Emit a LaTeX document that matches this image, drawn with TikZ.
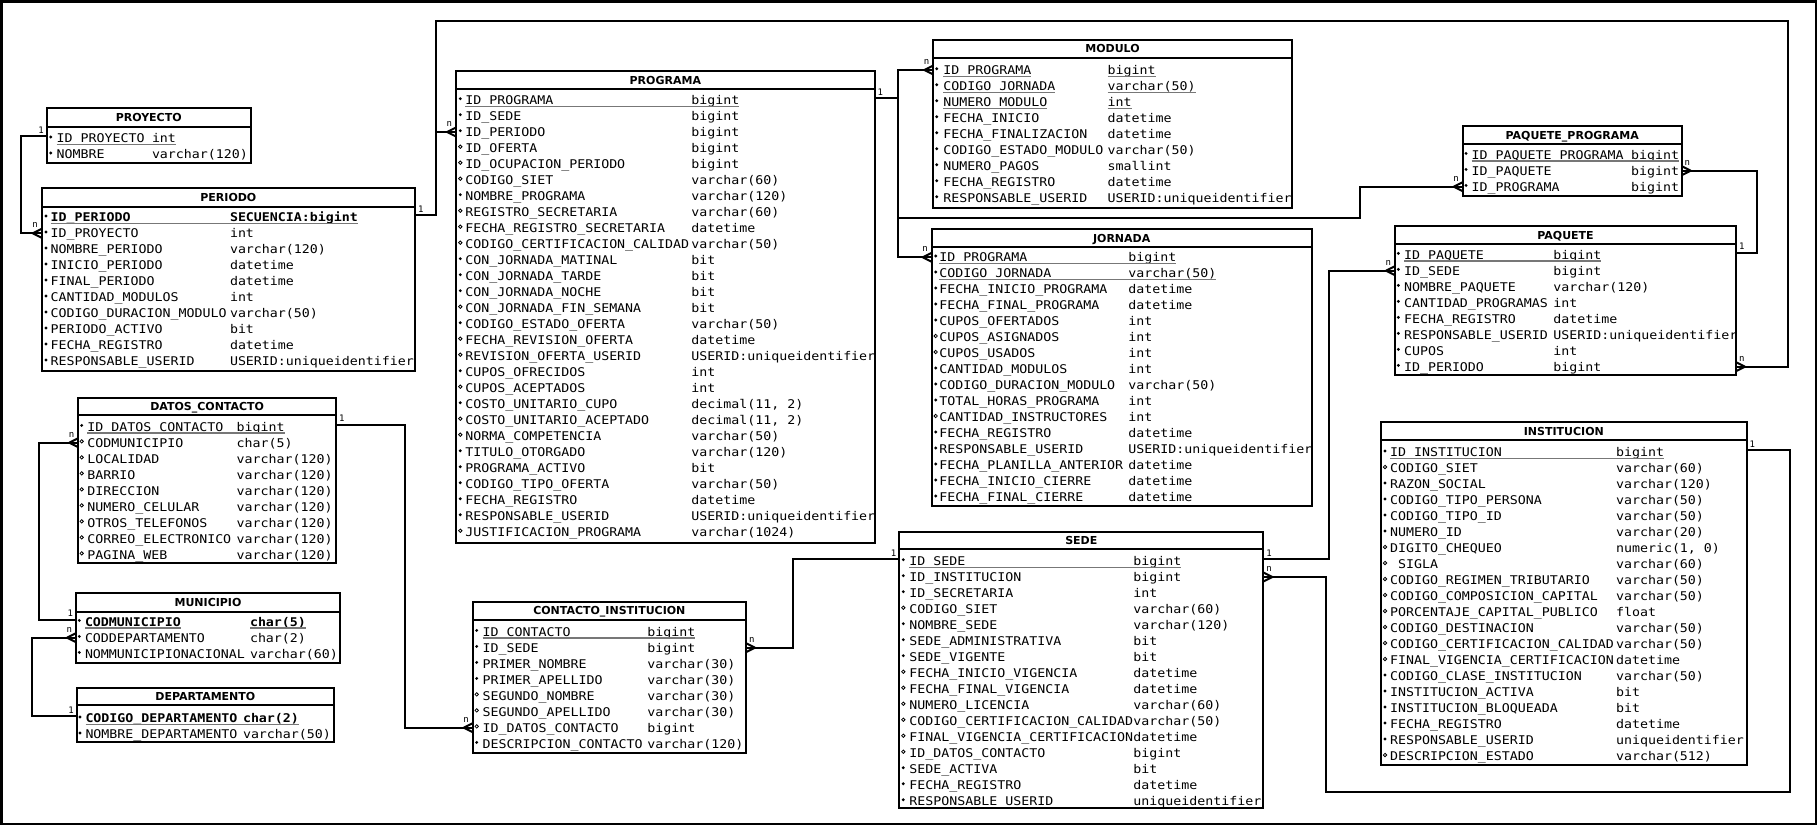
\documentclass[tikz,border=0pt]{standalone}
\usepackage{fontspec}
\newfontfamily\rowfont[FakeStretch=1.107]{DejaVu Sans Mono}
\newfontfamily\cardfont{DejaVu Sans Mono}
\newfontfamily\headfont{DejaVu Sans}
\definecolor{ulgray}{HTML}{777777}

\tikzset{
  tbox/.style={draw, line width=2pt, fill=white, inner sep=0pt, outer sep=0pt},
  sepline/.style={line width=2pt},
  conn/.style={line width=2pt},
  rtext/.style={anchor=west, inner sep=0pt, outer sep=0pt, text height=8.75pt, text depth=0pt,
    font=\rowfont\fontsize{12}{14}\selectfont},
  ttext/.style={inner sep=0pt, outer sep=0pt, text height=8pt, text depth=0pt,
    font=\headfont\bfseries\fontsize{11}{13}\selectfont},
  card/.style={inner sep=0pt, outer sep=0pt, text depth=0pt, font=\cardfont\fontsize{9}{10}\selectfont},
  uline/.style={line width=1.2pt, draw=ulgray},
}

% table frame: name, left, top, right, bottom, header bottom, title
\newcommand\ertable[7]{%
  \node[tbox, minimum width={#4-#2}, minimum height={#5-#3}] (#1) at ({(#2+#4)/2},{(#3+#5)/2}) {};
  \draw[sepline] (#2,#6) -- (#4,#6);
  \node[ttext] (#1-title) at ({(#2+#4)/2},{(#3+#6)/2}) {#7};
}
% column positions: bullet x, name x, type x, first row y
\newcommand\cols[5]{\def\bx{#2}\def\nx{#3}\def\tx{#4}\def\ry{#5}%
  \coordinate (#1-pk) at (\bx,\ry-2);}
% row: table, index, bullet (f = filled, o = open), name, type
\newcommand\row[5]{%
  \pgfmathsetmacro\yy{\ry+16*(#2-1)}%
  \coordinate (#1-#2) at (\bx,\yy);
  \if#3f\fill (\bx,\yy-1.3) circle (1.6pt);\else\draw[line width=0.8pt] (\bx,\yy-1.3) circle (1.7pt);\fi
  \node[rtext] (#1-#2n) at (\nx,\yy) {#4};
  \node[rtext] (#1-#2t) at (\tx,\yy) {#5};
}
\newcommand\pkline[2]{\draw[uline] ([yshift=-2pt]#1-#2n.base west) -- ([yshift=-2pt]#1-#2t.base east);}
\newcommand\pksplit[2]{\draw[uline] ([yshift=-2pt]#1-#2n.base west) -- ([yshift=-2pt]#1-#2n.base east);
  \draw[uline] ([yshift=-2pt]#1-#2t.base west) -- ([yshift=-2pt]#1-#2t.base east);}
% crow's foot at a box edge; #2 = -1 for a left edge, 1 for a right edge
\newcommand\crow[2]{\draw[conn] (#1) ++({9*(#2)},0) -- ++({-9*(#2)},-4.5) (#1) ++({9*(#2)},0) -- ++({-9*(#2)},4.5);}
\newcommand\oneL[2]{\node[card, anchor=south east] (#2) at ([xshift=-3pt,yshift=3pt]#1) {1};}
\newcommand\oneR[2]{\node[card, anchor=south west] (#2) at ([xshift=3pt,yshift=3pt]#1) {1};}
\newcommand\manyL[2]{\node[card, anchor=south east] (#2) at ([xshift=-4pt,yshift=5.5pt]#1) {n};}
\newcommand\manyR[2]{\node[card, anchor=south west] (#2) at ([xshift=3pt,yshift=5.5pt]#1) {n};}

\begin{document}
\begin{tikzpicture}[x=1pt,y=-1pt]
\useasboundingbox (0,0) rectangle (1817,825);
\fill[white] (0,0) rectangle (1817,825);
\draw[line width=2.5pt] (1.25,1.25) rectangle (1815.75,823.75);

% ---------- PROYECTO ----------
\ertable{PROY}{46.7}{108.3}{250.7}{163.3}{126.7}{PROYECTO}
\cols{PROY}{50.7}{56.7}{152}{138.3}
\row{PROY}{1}{f}{ID\_PROYECTO}{int}
\row{PROY}{2}{f}{NOMBRE}{varchar(120)}
\pkline{PROY}{1}

% ---------- PERIODO ----------
\ertable{PER}{41.7}{188.3}{415}{371}{206.7}{PERIODO}
\cols{PER}{46}{50.7}{230}{217.3}
\row{PER}{1}{f}{\bfseries ID\_PERIODO}{\bfseries SECUENCIA:bigint}
\row{PER}{2}{f}{ID\_PROYECTO}{int}
\row{PER}{3}{f}{NOMBRE\_PERIODO}{varchar(120)}
\row{PER}{4}{f}{INICIO\_PERIODO}{datetime}
\row{PER}{5}{f}{FINAL\_PERIODO}{datetime}
\row{PER}{6}{f}{CANTIDAD\_MODULOS}{int}
\row{PER}{7}{f}{CODIGO\_DURACION\_MODULO}{varchar(50)}
\row{PER}{8}{f}{PERIODO\_ACTIVO}{bit}
\row{PER}{9}{f}{FECHA\_REGISTRO}{datetime}
\row{PER}{10}{f}{RESPONSABLE\_USERID}{USERID:uniqueidentifier}
\pkline{PER}{1}

% ---------- DATOS_CONTACTO ----------
\ertable{DC}{78.3}{398.3}{336}{563.3}{415}{DATOS\_CONTACTO}
\cols{DC}{81.7}{87.3}{236.7}{426.7}
\row{DC}{1}{f}{ID\_DATOS\_CONTACTO}{bigint}
\row{DC}{2}{o}{CODMUNICIPIO}{char(5)}
\row{DC}{3}{o}{LOCALIDAD}{varchar(120)}
\row{DC}{4}{o}{BARRIO}{varchar(120)}
\row{DC}{5}{o}{DIRECCION}{varchar(120)}
\row{DC}{6}{o}{NUMERO\_CELULAR}{varchar(120)}
\row{DC}{7}{o}{OTROS\_TELEFONOS}{varchar(120)}
\row{DC}{8}{o}{CORREO\_ELECTRONICO}{varchar(120)}
\row{DC}{9}{o}{PAGINA\_WEB}{varchar(120)}
\pkline{DC}{1}

% ---------- MUNICIPIO ----------
\ertable{MUN}{76}{593.3}{340}{662.7}{611.7}{MUNICIPIO}
\cols{MUN}{79.3}{85}{250}{621.7}
\row{MUN}{1}{f}{\bfseries CODMUNICIPIO}{\bfseries char(5)}
\row{MUN}{2}{f}{CODDEPARTAMENTO}{char(2)}
\row{MUN}{3}{f}{NOMMUNICIPIONACIONAL}{varchar(60)}
\pksplit{MUN}{1}

% ---------- DEPARTAMENTO ----------
\ertable{DEP}{76.7}{687.7}{334}{741.7}{705}{DEPARTAMENTO}
\cols{DEP}{80}{85.5}{243}{718.3}
\row{DEP}{1}{f}{\bfseries CODIGO\_DEPARTAMENTO}{\bfseries char(2)}
\row{DEP}{2}{f}{NOMBRE\_DEPARTAMENTO}{varchar(50)}
\pkline{DEP}{1}

% ---------- PROGRAMA ----------
\ertable{PROG}{456}{71}{874.7}{543.3}{89}{PROGRAMA}
\cols{PROG}{460.3}{465.3}{691.3}{100}
\row{PROG}{1}{f}{ID\_PROGRAMA}{bigint}
\row{PROG}{2}{f}{ID\_SEDE}{bigint}
\row{PROG}{3}{f}{ID\_PERIODO}{bigint}
\row{PROG}{4}{o}{ID\_OFERTA}{bigint}
\row{PROG}{5}{o}{ID\_OCUPACION\_PERIODO}{bigint}
\row{PROG}{6}{o}{CODIGO\_SIET}{varchar(60)}
\row{PROG}{7}{f}{NOMBRE\_PROGRAMA}{varchar(120)}
\row{PROG}{8}{o}{REGISTRO\_SECRETARIA}{varchar(60)}
\row{PROG}{9}{o}{FECHA\_REGISTRO\_SECRETARIA}{datetime}
\row{PROG}{10}{o}{CODIGO\_CERTIFICACION\_CALIDAD}{varchar(50)}
\row{PROG}{11}{f}{CON\_JORNADA\_MATINAL}{bit}
\row{PROG}{12}{f}{CON\_JORNADA\_TARDE}{bit}
\row{PROG}{13}{f}{CON\_JORNADA\_NOCHE}{bit}
\row{PROG}{14}{o}{CON\_JORNADA\_FIN\_SEMANA}{bit}
\row{PROG}{15}{f}{CODIGO\_ESTADO\_OFERTA}{varchar(50)}
\row{PROG}{16}{o}{FECHA\_REVISION\_OFERTA}{datetime}
\row{PROG}{17}{o}{REVISION\_OFERTA\_USERID}{USERID:uniqueidentifier}
\row{PROG}{18}{f}{CUPOS\_OFRECIDOS}{int}
\row{PROG}{19}{o}{CUPOS\_ACEPTADOS}{int}
\row{PROG}{20}{f}{COSTO\_UNITARIO\_CUPO}{decimal(11, 2)}
\row{PROG}{21}{o}{COSTO\_UNITARIO\_ACEPTADO}{decimal(11, 2)}
\row{PROG}{22}{o}{NORMA\_COMPETENCIA}{varchar(50)}
\row{PROG}{23}{f}{TITULO\_OTORGADO}{varchar(120)}
\row{PROG}{24}{f}{PROGRAMA\_ACTIVO}{bit}
\row{PROG}{25}{f}{CODIGO\_TIPO\_OFERTA}{varchar(50)}
\row{PROG}{26}{f}{FECHA\_REGISTRO}{datetime}
\row{PROG}{27}{f}{RESPONSABLE\_USERID}{USERID:uniqueidentifier}
\row{PROG}{28}{o}{JUSTIFICACION\_PROGRAMA}{varchar(1024)}
\pkline{PROG}{1}

% ---------- MODULO ----------
\ertable{MOD}{933.3}{40}{1291.7}{208.3}{57.7}{MODULO}
\cols{MOD}{936.7}{943.3}{1107.7}{70}
\row{MOD}{1}{f}{ID\_PROGRAMA}{bigint}
\row{MOD}{2}{f}{CODIGO\_JORNADA}{varchar(50)}
\row{MOD}{3}{f}{NUMERO\_MODULO}{int}
\row{MOD}{4}{f}{FECHA\_INICIO}{datetime}
\row{MOD}{5}{f}{FECHA\_FINALIZACION}{datetime}
\row{MOD}{6}{f}{CODIGO\_ESTADO\_MODULO}{varchar(50)}
\row{MOD}{7}{f}{NUMERO\_PAGOS}{smallint}
\row{MOD}{8}{f}{FECHA\_REGISTRO}{datetime}
\row{MOD}{9}{f}{RESPONSABLE\_USERID}{USERID:uniqueidentifier}
\pksplit{MOD}{1}\pksplit{MOD}{2}\pksplit{MOD}{3}

% ---------- JORNADA ----------
\ertable{JOR}{931.7}{229.3}{1311.7}{506}{246.7}{JORNADA}
\cols{JOR}{935.7}{939.3}{1128.3}{257.3}
\row{JOR}{1}{f}{ID\_PROGRAMA}{bigint}
\row{JOR}{2}{f}{CODIGO\_JORNADA}{varchar(50)}
\row{JOR}{3}{f}{FECHA\_INICIO\_PROGRAMA}{datetime}
\row{JOR}{4}{f}{FECHA\_FINAL\_PROGRAMA}{datetime}
\row{JOR}{5}{f}{CUPOS\_OFERTADOS}{int}
\row{JOR}{6}{o}{CUPOS\_ASIGNADOS}{int}
\row{JOR}{7}{o}{CUPOS\_USADOS}{int}
\row{JOR}{8}{f}{CANTIDAD\_MODULOS}{int}
\row{JOR}{9}{f}{CODIGO\_DURACION\_MODULO}{varchar(50)}
\row{JOR}{10}{f}{TOTAL\_HORAS\_PROGRAMA}{int}
\row{JOR}{11}{o}{CANTIDAD\_INSTRUCTORES}{int}
\row{JOR}{12}{f}{FECHA\_REGISTRO}{datetime}
\row{JOR}{13}{f}{RESPONSABLE\_USERID}{USERID:uniqueidentifier}
\row{JOR}{14}{f}{FECHA\_PLANILLA\_ANTERIOR}{datetime}
\row{JOR}{15}{f}{FECHA\_INICIO\_CIERRE}{datetime}
\row{JOR}{16}{f}{FECHA\_FINAL\_CIERRE}{datetime}
\pkline{JOR}{1}\pkline{JOR}{2}

% ---------- PAQUETE_PROGRAMA ----------
\ertable{PP}{1462.7}{126.3}{1681.7}{196.3}{144}{PAQUETE\_PROGRAMA}
\cols{PP}{1466}{1471.7}{1631}{154.7}
\row{PP}{1}{f}{ID\_PAQUETE\_PROGRAMA}{bigint}
\row{PP}{2}{f}{ID\_PAQUETE}{bigint}
\row{PP}{3}{f}{ID\_PROGRAMA}{bigint}
\pkline{PP}{1}

% ---------- PAQUETE ----------
\ertable{PAQ}{1395}{226.3}{1736}{375.3}{244}{PAQUETE}
\cols{PAQ}{1398.3}{1404}{1553.3}{254.7}
\row{PAQ}{1}{f}{ID\_PAQUETE}{bigint}
\row{PAQ}{2}{f}{ID\_SEDE}{bigint}
\row{PAQ}{3}{f}{NOMBRE\_PAQUETE}{varchar(120)}
\row{PAQ}{4}{f}{CANTIDAD\_PROGRAMAS}{int}
\row{PAQ}{5}{f}{FECHA\_REGISTRO}{datetime}
\row{PAQ}{6}{f}{RESPONSABLE\_USERID}{USERID:uniqueidentifier}
\row{PAQ}{7}{f}{CUPOS}{int}
\row{PAQ}{8}{f}{ID\_PERIODO}{bigint}
\pkline{PAQ}{1}

% ---------- SEDE ----------
\ertable{SEDE}{899.3}{532.3}{1263.3}{808.3}{549.3}{SEDE}
\cols{SEDE}{903.3}{909.3}{1133.3}{561}
\row{SEDE}{1}{f}{ID\_SEDE}{bigint}
\row{SEDE}{2}{f}{ID\_INSTITUCION}{bigint}
\row{SEDE}{3}{f}{ID\_SECRETARIA}{int}
\row{SEDE}{4}{o}{CODIGO\_SIET}{varchar(60)}
\row{SEDE}{5}{f}{NOMBRE\_SEDE}{varchar(120)}
\row{SEDE}{6}{f}{SEDE\_ADMINISTRATIVA}{bit}
\row{SEDE}{7}{f}{SEDE\_VIGENTE}{bit}
\row{SEDE}{8}{o}{FECHA\_INICIO\_VIGENCIA}{datetime}
\row{SEDE}{9}{o}{FECHA\_FINAL\_VIGENCIA}{datetime}
\row{SEDE}{10}{o}{NUMERO\_LICENCIA}{varchar(60)}
\row{SEDE}{11}{o}{CODIGO\_CERTIFICACION\_CALIDAD}{varchar(50)}
\row{SEDE}{12}{o}{FINAL\_VIGENCIA\_CERTIFICACION}{datetime}
\row{SEDE}{13}{o}{ID\_DATOS\_CONTACTO}{bigint}
\row{SEDE}{14}{f}{SEDE\_ACTIVA}{bit}
\row{SEDE}{15}{f}{FECHA\_REGISTRO}{datetime}
\row{SEDE}{16}{f}{RESPONSABLE\_USERID}{uniqueidentifier}
\pkline{SEDE}{1}

% ---------- INSTITUCION ----------
\ertable{INST}{1381}{422.3}{1746.7}{765}{440}{INSTITUCION}
\cols{INST}{1385}{1390}{1616}{452.3}
\row{INST}{1}{f}{ID\_INSTITUCION}{bigint}
\row{INST}{2}{o}{CODIGO\_SIET}{varchar(60)}
\row{INST}{3}{f}{RAZON\_SOCIAL}{varchar(120)}
\row{INST}{4}{f}{CODIGO\_TIPO\_PERSONA}{varchar(50)}
\row{INST}{5}{f}{CODIGO\_TIPO\_ID}{varchar(50)}
\row{INST}{6}{f}{NUMERO\_ID}{varchar(20)}
\row{INST}{7}{o}{DIGITO\_CHEQUEO}{numeric(1, 0)}
\row{INST}{8}{o}{\hphantom{S}SIGLA}{varchar(60)}
\row{INST}{9}{o}{CODIGO\_REGIMEN\_TRIBUTARIO}{varchar(50)}
\row{INST}{10}{o}{CODIGO\_COMPOSICION\_CAPITAL}{varchar(50)}
\row{INST}{11}{o}{PORCENTAJE\_CAPITAL\_PUBLICO}{float}
\row{INST}{12}{o}{CODIGO\_DESTINACION}{varchar(50)}
\row{INST}{13}{o}{CODIGO\_CERTIFICACION\_CALIDAD}{varchar(50)}
\row{INST}{14}{o}{FINAL\_VIGENCIA\_CERTIFICACION}{datetime}
\row{INST}{15}{f}{CODIGO\_CLASE\_INSTITUCION}{varchar(50)}
\row{INST}{16}{f}{INSTITUCION\_ACTIVA}{bit}
\row{INST}{17}{f}{INSTITUCION\_BLOQUEADA}{bit}
\row{INST}{18}{f}{FECHA\_REGISTRO}{datetime}
\row{INST}{19}{f}{RESPONSABLE\_USERID}{uniqueidentifier}
\row{INST}{20}{o}{DESCRIPCION\_ESTADO}{varchar(512)}
\pkline{INST}{1}

% ---------- CONTACTO_INSTITUCION ----------
\ertable{CI}{472.7}{601.7}{746}{752.7}{620}{CONTACTO\_INSTITUCION}
\cols{CI}{476.7}{482.7}{647.3}{631.7}
\row{CI}{1}{f}{ID\_CONTACTO}{bigint}
\row{CI}{2}{f}{ID\_SEDE}{bigint}
\row{CI}{3}{f}{PRIMER\_NOMBRE}{varchar(30)}
\row{CI}{4}{f}{PRIMER\_APELLIDO}{varchar(30)}
\row{CI}{5}{o}{SEGUNDO\_NOMBRE}{varchar(30)}
\row{CI}{6}{o}{SEGUNDO\_APELLIDO}{varchar(30)}
\row{CI}{7}{o}{ID\_DATOS\_CONTACTO}{bigint}
\row{CI}{8}{f}{DESCRIPCION\_CONTACTO}{varchar(120)}
\pkline{CI}{1}

% ---------- relationship end points ----------
\coordinate (a1) at (PROY.west |- PROY-pk);  \coordinate (a2) at (PER.west |- PER-2);
\coordinate (b1) at (PER.east |- PER-pk);    \coordinate (b2) at (PROG.west |- PROG-3);
\coordinate (b3) at (PAQ.east |- PAQ-8);
\coordinate (c1) at (DC.east |- DC-pk);      \coordinate (c2) at (CI.west |- CI-7);
\coordinate (d1) at (MUN.west |- MUN-pk);    \coordinate (d2) at (DC.west |- DC-2);
\coordinate (e1) at (DEP.west |- DEP-pk);    \coordinate (e2) at (MUN.west |- MUN-2);
\coordinate (f1) at (PROG.east |- PROG-pk);  \coordinate (f2) at (MOD.west |- MOD-1);
\coordinate (f3) at (JOR.west |- JOR-1);     \coordinate (f4) at (PP.west |- PP-3);
\coordinate (g1) at (PAQ.east |- PAQ-pk);    \coordinate (g2) at (PP.east |- PP-2);
\coordinate (h1) at (SEDE.east |- SEDE-pk);  \coordinate (h2) at (PAQ.west |- PAQ-2);
\coordinate (i1) at (INST.east |- INST-pk);  \coordinate (i2) at (SEDE.east |- SEDE-2);
\coordinate (j1) at (SEDE.west |- SEDE-pk);  \coordinate (j2) at (CI.east |- CI-2);

% bend points of the routed connectors
\coordinate (v1) at (21,0);
\coordinate (v2) at (436,21);
\coordinate (v3) at (1788,21);
\coordinate (v4) at (404.5,0);
\coordinate (v5) at (39.3,0);
\coordinate (v6) at (31.7,0);
\coordinate (v7) at (898.3,218);
\coordinate (v8) at (1359.5,0);
\coordinate (v9) at (1756.7,0);
\coordinate (v10) at (1329.3,0);
\coordinate (v11) at (1790,791.7);
\coordinate (v12) at (1326,0);
\coordinate (v13) at (792.7,0);

% ---------- connectors ----------
\draw[conn] (a1) -| (v1 |- a2) -- (a2);
\draw[conn] (b1) -| (v2) -- (v3) |- (b3);
\draw[conn] (v2 |- b2) -- (b2);
\draw[conn] (c1) -| (v4 |- c2) -- (c2);
\draw[conn] (d1) -| (v5 |- d2) -- (d2);
\draw[conn] (e1) -| (v6 |- e2) -- (e2);
\draw[conn] (f1) -| (v7 |- f2) -- (f2);
\draw[conn] (v7 |- f1) |- (f3);
\draw[conn] (v7) -| (v8 |- f4) -- (f4);
\draw[conn] (g1) -| (v9 |- g2) -- (g2);
\draw[conn] (h1) -| (v10 |- h2) -- (h2);
\draw[conn] (i1) -| (v11) -| (v12 |- i2) -- (i2);
\draw[conn] (j1) -| (v13 |- j2) -- (j2);

% crow's feet on the many side
\crow{a2}{-1}\crow{b2}{-1}\crow{b3}{1}\crow{c2}{-1}\crow{d2}{-1}\crow{e2}{-1}
\crow{f2}{-1}\crow{f3}{-1}\crow{f4}{-1}\crow{g2}{1}\crow{h2}{-1}\crow{i2}{1}\crow{j2}{1}

% cardinality labels
\oneL{a1}{ka1}\oneR{b1}{kb1}\oneR{c1}{kc1}\oneL{d1}{kd1}\oneL{e1}{ke1}
\oneR{f1}{kf1}\oneR{g1}{kg1}\oneR{h1}{kh1}\oneR{i1}{ki1}\oneL{j1}{kj1}
\manyL{a2}{ka2}\manyL{b2}{kb2}\manyR{b3}{kb3}\manyL{c2}{kc2}\manyL{d2}{kd2}
\manyL{e2}{ke2}\manyL{f2}{kf2}\manyL{f3}{kf3}\manyL{f4}{kf4}\manyR{g2}{kg2}
\manyL{h2}{kh2}\manyR{i2}{ki2}\manyR{j2}{kj2}
\end{tikzpicture}
\end{document}
